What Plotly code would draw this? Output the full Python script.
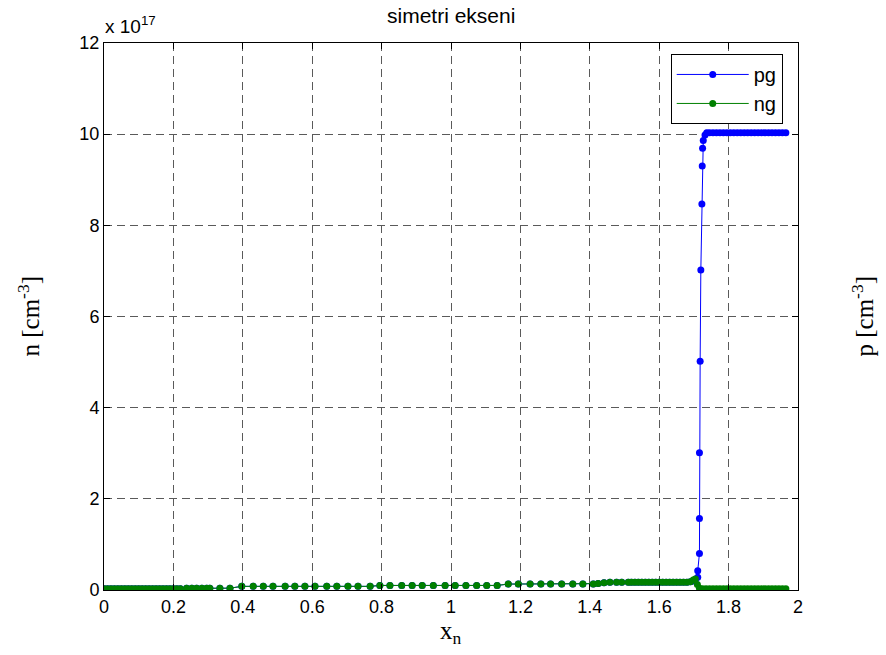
import plotly.graph_objects as go

# ---- data (x in units of x_n, y in units of 1e17 cm^-3) ----
ng_x = [0.000, 0.010, 0.020, 0.030, 0.040, 0.050, 0.060, 0.070, 0.080, 0.090,
        0.100, 0.110, 0.120, 0.130, 0.140, 0.150, 0.160, 0.170, 0.180, 0.190,
        0.200, 0.210, 0.220, 0.238, 0.253, 0.267, 0.282, 0.296, 0.305, 0.334,
        0.363, 0.397, 0.430, 0.459, 0.487, 0.522, 0.550, 0.579, 0.608, 0.642,
        0.671, 0.703, 0.732, 0.767, 0.795, 0.824, 0.858, 0.888, 0.917, 0.949,
        0.983, 1.012, 1.043, 1.074, 1.103, 1.133, 1.165, 1.194, 1.228, 1.259,
        1.287, 1.319, 1.351, 1.380, 1.410, 1.424, 1.441, 1.458, 1.477, 1.492,
        1.511, 1.520, 1.530, 1.540, 1.550, 1.560, 1.570, 1.580, 1.590, 1.600,
        1.610, 1.620, 1.630, 1.640, 1.650, 1.660, 1.670, 1.680, 1.690, 1.698,
        1.704, 1.710, 1.716, 1.725, 1.735, 1.745, 1.755, 1.765, 1.775, 1.785,
        1.795, 1.805, 1.815, 1.825, 1.835, 1.845, 1.855, 1.865, 1.875, 1.885,
        1.895, 1.905, 1.915, 1.925, 1.935, 1.945, 1.955, 1.965]
ng_y = [0.03, 0.03, 0.03, 0.03, 0.03, 0.03, 0.03, 0.03, 0.03, 0.03,
        0.03, 0.03, 0.03, 0.03, 0.03, 0.03, 0.03, 0.03, 0.03, 0.03,
        0.03, 0.03, 0.03, 0.04, 0.04, 0.04, 0.04, 0.04, 0.04, 0.04,
        0.04, 0.08, 0.08, 0.08, 0.08, 0.08, 0.08, 0.08, 0.08, 0.08,
        0.08, 0.08, 0.08, 0.08, 0.10, 0.10, 0.10, 0.10, 0.10, 0.10,
        0.10, 0.10, 0.10, 0.10, 0.10, 0.10, 0.13, 0.13, 0.13, 0.13,
        0.13, 0.13, 0.13, 0.13, 0.13, 0.14, 0.16, 0.17, 0.17, 0.17,
        0.17, 0.17, 0.17, 0.17, 0.17, 0.17, 0.17, 0.17, 0.17, 0.17,
        0.17, 0.17, 0.17, 0.17, 0.17, 0.17, 0.17, 0.17, 0.18, 0.22,
        0.24, 0.12, 0.04, 0.03, 0.03, 0.03, 0.03, 0.03, 0.03, 0.03,
        0.03, 0.03, 0.03, 0.03, 0.03, 0.03, 0.03, 0.03, 0.03, 0.03,
        0.03, 0.03, 0.03, 0.03, 0.03, 0.03, 0.03, 0.03]

pg_x = [0.000, 0.010, 0.020, 0.030, 0.040, 0.050, 0.060, 0.070, 0.080, 0.090,
        0.100, 0.110, 0.120, 0.130, 0.140, 0.150, 0.160, 0.170, 0.180, 0.190,
        0.200, 0.210, 0.220, 0.238, 0.253, 0.267, 0.282, 0.296, 0.305, 0.334,
        0.363, 0.397, 0.430, 0.459, 0.487, 0.522, 0.550, 0.579, 0.608, 0.642,
        0.671, 0.703, 0.732, 0.767, 0.795, 0.824, 0.858, 0.888, 0.917, 0.949,
        0.983, 1.012, 1.043, 1.074, 1.103, 1.133, 1.165, 1.194, 1.228, 1.259,
        1.287, 1.319, 1.351, 1.380, 1.410, 1.424, 1.441, 1.458, 1.477, 1.492,
        1.511, 1.520, 1.530, 1.540, 1.550, 1.560, 1.570, 1.580, 1.590, 1.600,
        1.610, 1.620, 1.630, 1.640, 1.650, 1.660, 1.670, 1.680, 1.690, 1.698,
        1.704, 1.711, 1.711, 1.716, 1.716, 1.716, 1.718, 1.720, 1.723, 1.724,
        1.725, 1.727, 1.732, 1.737, 1.745, 1.755, 1.765, 1.775, 1.785, 1.795,
        1.805, 1.815, 1.825, 1.835, 1.845, 1.855, 1.865, 1.875, 1.885, 1.895,
        1.905, 1.915, 1.925, 1.935, 1.945, 1.955, 1.965]
pg_y = [0.03, 0.03, 0.03, 0.03, 0.03, 0.03, 0.03, 0.03, 0.03, 0.03,
        0.03, 0.03, 0.03, 0.03, 0.03, 0.03, 0.03, 0.03, 0.03, 0.03,
        0.03, 0.03, 0.03, 0.04, 0.04, 0.04, 0.04, 0.04, 0.04, 0.04,
        0.04, 0.08, 0.08, 0.08, 0.08, 0.08, 0.08, 0.08, 0.08, 0.08,
        0.08, 0.08, 0.08, 0.08, 0.10, 0.10, 0.10, 0.10, 0.10, 0.10,
        0.10, 0.10, 0.10, 0.10, 0.10, 0.10, 0.13, 0.13, 0.13, 0.13,
        0.13, 0.13, 0.13, 0.13, 0.13, 0.14, 0.16, 0.17, 0.17, 0.17,
        0.17, 0.17, 0.17, 0.17, 0.17, 0.17, 0.17, 0.17, 0.17, 0.17,
        0.17, 0.17, 0.17, 0.17, 0.17, 0.17, 0.17, 0.17, 0.18, 0.20,
        0.22, 0.28, 0.42, 0.80, 1.57, 3.01, 5.02, 7.02, 8.47, 9.30,
        9.69, 9.86, 9.98, 10.03, 10.03, 10.03, 10.03, 10.03, 10.03, 10.03,
        10.03, 10.03, 10.03, 10.03, 10.03, 10.03, 10.03, 10.03, 10.03, 10.03,
        10.03, 10.03, 10.03, 10.03, 10.03, 10.03, 10.03]

x_tickvals = [0, 0.2, 0.4, 0.6, 0.8, 1, 1.2, 1.4, 1.6, 1.8, 2]
x_ticktext = ["0", "0.2", "0.4", "0.6", "0.8", "1", "1.2", "1.4", "1.6", "1.8", "2"]
y_tickvals = [0, 2, 4, 6, 8, 10, 12]
y_ticktext = ["0", "2", "4", "6", "8", "10", "12"]

SANS = "Liberation Sans, Arial, Helvetica, sans-serif"
SERIF = "Liberation Serif, Times New Roman, serif"

fig = go.Figure()
fig.add_trace(go.Scatter(x=pg_x, y=pg_y, mode="lines+markers", name="pg",
                         line=dict(color="#0000ff", width=1),
                         marker=dict(color="#0000ff", size=7)))
fig.add_trace(go.Scatter(x=ng_x, y=ng_y, mode="lines+markers", name="ng",
                         line=dict(color="#008000", width=1),
                         marker=dict(color="#008000", size=7)))

axis_common = dict(showline=True, linecolor="black", linewidth=1, mirror="ticks",
                   ticks="inside", ticklen=6, tickcolor="black",
                   showgrid=True, gridcolor="#5a5a5a", gridwidth=1, griddash="8px,5px",
                   zeroline=False, tickfont=dict(family=SANS, size=18, color="black"))

fig.update_xaxes(range=[0, 2], tickvals=x_tickvals, ticktext=x_ticktext, **axis_common)
fig.update_yaxes(range=[0, 12], tickvals=y_tickvals, ticktext=y_ticktext, **axis_common)

fig.update_layout(
    width=886, height=655,
    margin=dict(l=104, r=88, t=43, b=65),
    paper_bgcolor="white", plot_bgcolor="white",
    showlegend=True,
    legend=dict(x=0.978, y=0.98, xanchor="right", yanchor="top",
                bgcolor="white", bordercolor="black", borderwidth=1,
                font=dict(family=SANS, size=20, color="black"),
                itemwidth=72),
    annotations=[
        dict(text="simetri ekseni", x=0.5, y=1 + (43 - 15) / 547, xref="paper", yref="paper",
             showarrow=False, xanchor="center", yanchor="middle",
             font=dict(family=SANS, size=21, color="black")),
        dict(text="x 10<sup>17</sup>", x=-0.002, y=1 + (43 - 39) / 547, xref="paper", yref="paper",
             showarrow=False, xanchor="left", yanchor="bottom",
             font=dict(family=SANS, size=19, color="black")),
        dict(text="n [cm<sup>-3</sup>]", x=(28 - 104) / 694, y=0.5, xref="paper", yref="paper",
             showarrow=False, xanchor="center", yanchor="middle", textangle=-90,
             font=dict(family=SERIF, size=25, color="black")),
        dict(text="p [cm<sup>-3</sup>]", x=(862 - 104) / 694, y=0.5, xref="paper", yref="paper",
             showarrow=False, xanchor="center", yanchor="middle", textangle=-90,
             font=dict(family=SERIF, size=25, color="black")),
        dict(text="x<sub>n</sub>", x=0.5, y=-(632 - 590) / 547, xref="paper", yref="paper",
             showarrow=False, xanchor="center", yanchor="middle",
             font=dict(family=SERIF, size=25, color="black")),
    ],
)

fig.write_html("out.html", config={"displayModeBar": False},
               post_script="document.body.style.margin='0';document.body.style.overflow='hidden';")
